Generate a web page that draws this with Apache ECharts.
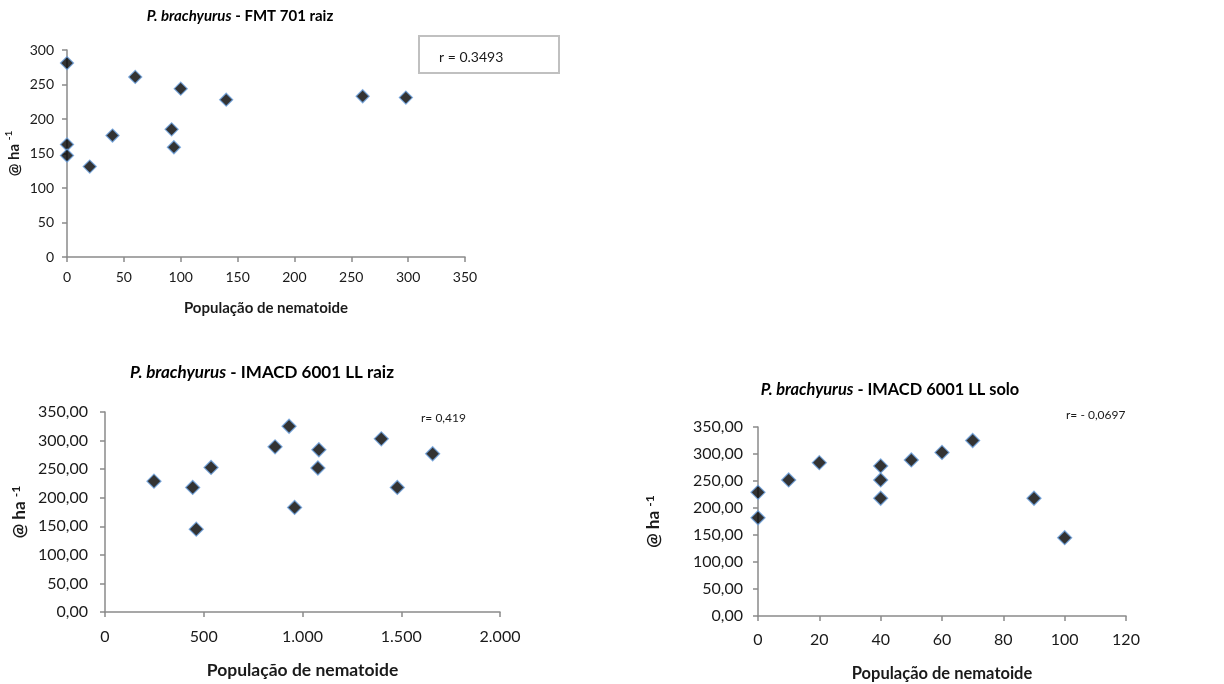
<!DOCTYPE html>
<html>
<head>
<meta charset="utf-8">
<script src="https://cdn.jsdelivr.net/npm/echarts@6/dist/echarts.min.js"></script>
<style>html,body{margin:0;padding:0;background:#fff}#c{width:1224px;height:684px}</style>
</head>
<body>
<div id="c"></div>
<script>
// ---- Data ----
const fmtX = [0, 0, 0, 20, 40, 60, 92, 94, 100, 140, 260, 298];
const fmtY = [281, 163, 147, 131, 176, 261, 185, 159, 244, 228, 233, 231];

const raizX = [248, 444, 462, 537, 861, 932, 960, 1083, 1078, 1399, 1480, 1659];
const raizY = [229, 218, 145, 253, 289, 325, 183, 284, 252, 303, 218, 277];

const soloX = [0, 0, 10, 20, 40, 40, 40, 50, 60, 70, 90, 100];
const soloY = [229, 182, 252, 284, 278, 252, 218, 289, 303, 325, 218, 145];

const titles = ['FMT 701 raiz', 'IMACD 6001 LL raiz', 'IMACD 6001 LL solo'];
const rLabels = ['r = 0.3493', 'r= 0,419', 'r= - 0,0697'];
const xRanges = [[0, 350, 50], [0, 2000, 500], [0, 120, 20]];
const yRanges = [[0, 300, 50], [0, 350, 50], [0, 350, 50]];

const FONT = 'Lato, "Open Sans", sans-serif';
const pair = (xs, ys) => xs.map((x, i) => [x, ys[i]]);

function fmtComma2(v) { return v.toFixed(2).replace('.', ','); }
function fmtThousand(v) { return String(v).replace(/\B(?=(\d{3})+(?!\d))/g, '.'); }

const grids = [
  {left: 67, top: 50, width: 398, height: 207},
  {left: 105, top: 412, width: 395, height: 200},
  {left: 758, top: 427, width: 368, height: 189}
];
const lblSize = [14, 16, 16];
const xNameSize = [15, 17.5, 16.5];
const yNameSize = [15, 17, 17];
const xNameGap = [44, 49, 49];
const yNameGap = [43, 75, 94];
const xLblMargin = [13, 17, 16];
const yLblMargin = [13, 17, 15];
const xFmt = [v => String(v), fmtThousand, v => String(v)];
const yFmt = [v => String(v), fmtComma2, fmtComma2];

const axisLine = {show: true, lineStyle: {color: '#8a8a8a', width: 1.5}};
const axisTick = {show: true, inside: false, length: 5, lineStyle: {color: '#8a8a8a', width: 1.5}};

const xAxes = [], yAxes = [];
for (let i = 0; i < 3; i++) {
  xAxes.push({
    type: 'value', gridIndex: i, min: xRanges[i][0], max: xRanges[i][1], interval: xRanges[i][2],
    axisLine, axisTick, splitLine: {show: false},
    axisLabel: {fontFamily: FONT, fontSize: lblSize[i], color: '#1a1a1a', margin: xLblMargin[i], formatter: xFmt[i], showMaxLabel: true},
    name: 'População de nematoide', nameLocation: 'middle', nameGap: xNameGap[i],
    nameTextStyle: {fontFamily: FONT, fontSize: xNameSize[i], fontWeight: 'bold', color: '#1a1a1a'}
  });
  yAxes.push({
    type: 'value', gridIndex: i, min: yRanges[i][0], max: yRanges[i][1], interval: yRanges[i][2],
    axisLine, axisTick, splitLine: {show: false},
    axisLabel: {fontFamily: FONT, fontSize: lblSize[i], color: '#1a1a1a', margin: yLblMargin[i], formatter: yFmt[i]},
    name: '{a|@ ha }{s|-1}', nameLocation: 'middle', nameGap: yNameGap[i], nameRotate: 90,
    nameTextStyle: {
      rich: {
        a: {fontFamily: FONT, fontSize: yNameSize[i], fontWeight: 'bold', color: '#1a1a1a', lineHeight: 20},
        s: {fontFamily: FONT, fontSize: yNameSize[i] - 5, fontWeight: 'bold', color: '#1a1a1a', verticalAlign: 'top', lineHeight: 20}
      }
    }
  });
}

const marker = {color: '#000', borderColor: '#6a9fdc', borderWidth: 1.3};
const series = [
  {type: 'scatter', xAxisIndex: 0, yAxisIndex: 0, data: pair(fmtX, fmtY), symbol: 'diamond', symbolSize: 13, itemStyle: marker},
  {type: 'scatter', xAxisIndex: 1, yAxisIndex: 1, data: pair(raizX, raizY), symbol: 'diamond', symbolSize: 14, itemStyle: marker},
  {type: 'scatter', xAxisIndex: 2, yAxisIndex: 2, data: pair(soloX, soloY), symbol: 'diamond', symbolSize: 14, itemStyle: marker}
];

function titleText(x, y, t, size) {
  return {
    type: 'text', x, y,
    style: {
      text: '{i|P. brachyurus}{b| - ' + t + '}',
      align: 'center', verticalAlign: 'middle',
      rich: {
        i: {fontFamily: FONT, fontSize: size, fontWeight: 'bold', fontStyle: 'italic', fill: '#000'},
        b: {fontFamily: FONT, fontSize: size, fontWeight: 'bold', fill: '#000'}
      }
    }
  };
}

const graphic = [
  titleText(240, 16, titles[0], 15),
  titleText(262, 373, titles[1], 17),
  titleText(890, 390, titles[2], 16.4),
  {type: 'rect', shape: {x: 419, y: 36, width: 140, height: 37}, style: {fill: '#fff', stroke: '#c0c0c0', lineWidth: 2}},
  {type: 'text', x: 439, y: 57, style: {text: rLabels[0], fontFamily: FONT, fontSize: 14, fill: '#1a1a1a', verticalAlign: 'middle'}},
  {type: 'text', x: 421, y: 418, style: {text: rLabels[1], fontFamily: FONT, fontSize: 12, fill: '#1a1a1a', verticalAlign: 'middle'}},
  {type: 'text', x: 1066, y: 415, style: {text: rLabels[2], fontFamily: FONT, fontSize: 12, fill: '#1a1a1a', verticalAlign: 'middle'}}
];

const chart = echarts.init(document.getElementById('c'), null, {renderer: 'canvas'});
chart.setOption({
  animation: false,
  backgroundColor: '#fff',
  grid: grids,
  xAxis: xAxes,
  yAxis: yAxes,
  series,
  graphic
});
</script>
</body>
</html>
